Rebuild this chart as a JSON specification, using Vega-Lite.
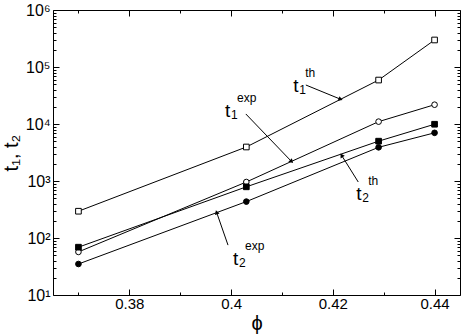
{
  "$schema": "https://vega.github.io/schema/vega-lite/v6.json",
  "width": 407,
  "height": 285,
  "autosize": "none",
  "padding": {"left": 53, "top": 10, "right": 3, "bottom": 39},
  "background": "white",
  "config": {
    "font": "Liberation Sans",
    "view": {"stroke": "black", "strokeWidth": 1},
    "axis": {"zindex": 2, "domain": false, "grid": false, "ticks": true, "tickColor": "black", "tickWidth": 1, "labelColor": "black", "labelFont": "Liberation Sans", "titleFont": "Liberation Sans", "titleColor": "black", "titleFontWeight": "normal"}
  },
  "datasets": {
    "series": [
      {"phi": 0.370, "t": 295, "s": "t1th"},
      {"phi": 0.403, "t": 3950, "s": "t1th"},
      {"phi": 0.429, "t": 59000, "s": "t1th"},
      {"phi": 0.440, "t": 298000, "s": "t1th"},
      {"phi": 0.370, "t": 57, "s": "t1exp"},
      {"phi": 0.403, "t": 960, "s": "t1exp"},
      {"phi": 0.429, "t": 11000, "s": "t1exp"},
      {"phi": 0.440, "t": 21800, "s": "t1exp"},
      {"phi": 0.370, "t": 69, "s": "t2th"},
      {"phi": 0.403, "t": 790, "s": "t2th"},
      {"phi": 0.429, "t": 5000, "s": "t2th"},
      {"phi": 0.440, "t": 9900, "s": "t2th"},
      {"phi": 0.370, "t": 35, "s": "t2exp"},
      {"phi": 0.403, "t": 435, "s": "t2exp"},
      {"phi": 0.429, "t": 3900, "s": "t2exp"},
      {"phi": 0.440, "t": 7000, "s": "t2exp"}
    ],
    "labels": [
      {"name": "t1th", "phi": 0.4122, "t": 36400, "base": "t", "sub": "1", "sup": "th"},
      {"name": "t1exp", "phi": 0.3988, "t": 13300, "base": "t", "sub": "1", "sup": "exp"},
      {"name": "t2th", "phi": 0.4246, "t": 464, "base": "t", "sub": "2", "sup": "th"},
      {"name": "t2exp", "phi": 0.4004, "t": 33.6, "base": "t", "sub": "2", "sup": "exp"}
    ],
    "arrows": [
      {"name": "t1th", "phi": 0.4147, "t": 48300, "phi2": 0.4214, "t2": 27500},
      {"name": "t1exp", "phi": 0.4029, "t": 15000, "phi2": 0.4118, "t2": 2240},
      {"name": "t2th", "phi": 0.4250, "t": 960, "phi2": 0.4218, "t2": 2750},
      {"name": "t2exp", "phi": 0.3994, "t": 75, "phi2": 0.3972, "t2": 275}
    ]
  },
  "layer": [
    {
      "data": {"name": "series"},
      "mark": {"type": "line", "color": "black", "strokeWidth": 1},
      "encoding": {
        "x": {"field": "phi", "type": "quantitative", "scale": {"domain": [0.365, 0.445], "nice": false, "zero": false},
          "axis": {"orient": "bottom", "values": [0.38, 0.4, 0.42, 0.44], "format": ".2~f", "tickSize": -6, "labelPadding": 7, "labelFontSize": 15, "title": "ϕ", "titleFontSize": 20, "titlePadding": 2}},
        "y": {"field": "t", "type": "quantitative", "scale": {"type": "log", "domain": [10, 1000000], "nice": false},
          "axis": {"orient": "left", "values": [10, 100, 1000, 10000, 100000, 1000000], "labelExpr": "'10' + ['⁰','¹','²','³','⁴','⁵','⁶'][round(log(datum.value)/LN10)]", "tickSize": -6, "labelPadding": 9, "labelFontSize": 16, "title": "t₁, t₂", "titleFontSize": 20, "titlePadding": 4}},
        "detail": {"field": "s"}
      }
    },
    {
      "data": {"name": "series"},
      "mark": {"type": "point", "filled": true, "stroke": "black", "strokeWidth": 1, "opacity": 1, "size": 32},
      "encoding": {
        "x": {"field": "phi", "type": "quantitative", "scale": {"domain": [0.365, 0.445], "nice": false, "zero": false},
          "axis": {"orient": "bottom", "values": [0.37, 0.39, 0.41, 0.43], "tickSize": -3, "labels": false, "title": null}},
        "y": {"field": "t", "type": "quantitative", "scale": {"type": "log", "domain": [10, 1000000], "nice": false},
          "axis": {"orient": "left", "values": [20,30,40,50,60,70,80,90,200,300,400,500,600,700,800,900,2000,3000,4000,5000,6000,7000,8000,9000,20000,30000,40000,50000,60000,70000,80000,90000,200000,300000,400000,500000,600000,700000,800000,900000], "tickSize": -3, "labels": false, "title": null}},
        "shape": {"field": "s", "type": "nominal", "scale": {"domain": ["t1th", "t1exp", "t2th", "t2exp"], "range": ["square", "circle", "square", "circle"]}, "legend": null},
        "fill": {"field": "s", "type": "nominal", "scale": {"domain": ["t1th", "t1exp", "t2th", "t2exp"], "range": ["white", "white", "black", "black"]}, "legend": null}
      }
    },
    {
      "data": {"name": "labels"},
      "mark": {"type": "text", "align": "left", "baseline": "alphabetic", "fontSize": 19, "color": "black"},
      "encoding": {
        "x": {"field": "phi", "type": "quantitative", "scale": {"domain": [0.365, 0.445], "nice": false, "zero": false},
          "axis": {"orient": "top", "values": [0.38, 0.4, 0.42, 0.44], "tickSize": -6, "labels": false, "title": null}},
        "y": {"field": "t", "type": "quantitative", "scale": {"type": "log", "domain": [10, 1000000], "nice": false},
          "axis": {"orient": "right", "values": [10, 100, 1000, 10000, 100000, 1000000], "tickSize": -6, "labels": false, "title": null}},
        "text": {"field": "base"}
      }
    },
    {
      "data": {"name": "labels"},
      "mark": {"type": "text", "align": "left", "baseline": "alphabetic", "fontSize": 12, "dx": 6, "dy": 2, "color": "black"},
      "encoding": {
        "x": {"field": "phi", "type": "quantitative", "scale": {"domain": [0.365, 0.445], "nice": false, "zero": false},
          "axis": {"orient": "top", "values": [0.37, 0.39, 0.41, 0.43], "tickSize": -3, "labels": false, "title": null}},
        "y": {"field": "t", "type": "quantitative", "scale": {"type": "log", "domain": [10, 1000000], "nice": false},
          "axis": {"orient": "right", "values": [20,30,40,50,60,70,80,90,200,300,400,500,600,700,800,900,2000,3000,4000,5000,6000,7000,8000,9000,20000,30000,40000,50000,60000,70000,80000,90000,200000,300000,400000,500000,600000,700000,800000,900000], "tickSize": -3, "labels": false, "title": null}},
        "text": {"field": "sub"}
      }
    },
    {
      "data": {"name": "labels"},
      "mark": {"type": "text", "align": "left", "baseline": "alphabetic", "fontSize": 12, "dx": 12, "dy": -15, "color": "black"},
      "encoding": {
        "x": {"field": "phi", "type": "quantitative", "scale": {"domain": [0.365, 0.445], "nice": false, "zero": false}, "axis": null},
        "y": {"field": "t", "type": "quantitative", "scale": {"type": "log", "domain": [10, 1000000], "nice": false}, "axis": null},
        "text": {"field": "sup"}
      }
    },
    {
      "data": {"name": "arrows"},
      "mark": {"type": "rule", "color": "black", "strokeWidth": 1},
      "encoding": {
        "x": {"field": "phi", "type": "quantitative", "scale": {"domain": [0.365, 0.445], "nice": false, "zero": false}, "axis": null},
        "y": {"field": "t", "type": "quantitative", "scale": {"type": "log", "domain": [10, 1000000], "nice": false}, "axis": null},
        "x2": {"field": "phi2"},
        "y2": {"field": "t2"}
      }
    },
    {
      "data": {"name": "arrows"},
      "transform": [{"filter": "datum.name == 't1th'"}],
      "mark": {"type": "point", "shape": "triangle", "angle": 112, "filled": true, "color": "black", "opacity": 1, "size": 24},
      "encoding": {
        "x": {"field": "phi2", "type": "quantitative", "scale": {"domain": [0.365, 0.445], "nice": false, "zero": false}, "axis": null},
        "y": {"field": "t2", "type": "quantitative", "scale": {"type": "log", "domain": [10, 1000000], "nice": false}, "axis": null}
      }
    },
    {
      "data": {"name": "arrows"},
      "transform": [{"filter": "datum.name == 't1exp'"}],
      "mark": {"type": "point", "shape": "triangle", "angle": 136, "filled": true, "color": "black", "opacity": 1, "size": 24},
      "encoding": {
        "x": {"field": "phi2", "type": "quantitative", "scale": {"domain": [0.365, 0.445], "nice": false, "zero": false}, "axis": null},
        "y": {"field": "t2", "type": "quantitative", "scale": {"type": "log", "domain": [10, 1000000], "nice": false}, "axis": null}
      }
    },
    {
      "data": {"name": "arrows"},
      "transform": [{"filter": "datum.name == 't2th'"}],
      "mark": {"type": "point", "shape": "triangle", "angle": 328, "filled": true, "color": "black", "opacity": 1, "size": 24},
      "encoding": {
        "x": {"field": "phi2", "type": "quantitative", "scale": {"domain": [0.365, 0.445], "nice": false, "zero": false}, "axis": null},
        "y": {"field": "t2", "type": "quantitative", "scale": {"type": "log", "domain": [10, 1000000], "nice": false}, "axis": null}
      }
    },
    {
      "data": {"name": "arrows"},
      "transform": [{"filter": "datum.name == 't2exp'"}],
      "mark": {"type": "point", "shape": "triangle", "angle": 341, "filled": true, "color": "black", "opacity": 1, "size": 24},
      "encoding": {
        "x": {"field": "phi2", "type": "quantitative", "scale": {"domain": [0.365, 0.445], "nice": false, "zero": false}, "axis": null},
        "y": {"field": "t2", "type": "quantitative", "scale": {"type": "log", "domain": [10, 1000000], "nice": false}, "axis": null}
      }
    }
  ],
  "resolve": {"axis": {"x": "independent", "y": "independent"}}
}
